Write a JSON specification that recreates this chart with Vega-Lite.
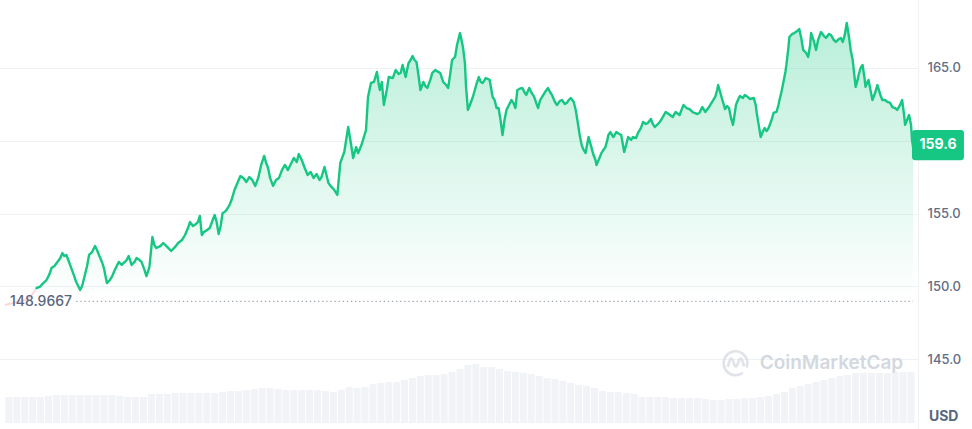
{
  "$schema": "https://vega.github.io/schema/vega-lite/v6.json",
  "width": 918,
  "height": 429,
  "autosize": "none",
  "padding": {"left": 0, "top": 0, "right": 54, "bottom": 0},
  "background": "white",
  "config": {"view": {"stroke": null}, "font": "Inter"},
  "datasets": {
    "price": [
      {"t":32,"p":149.89},{"t":35,"p":149.96},{"t":38,"p":150.17},{"t":42,"p":150.44},{"t":45,"p":150.85},{"t":47,"p":151.26},{"t":50,"p":151.40},{"t":53,"p":151.68},{"t":56,"p":151.95},{"t":58,"p":152.29},{"t":60,"p":152.09},{"t":62,"p":152.16},{"t":64,"p":151.81},{"t":67,"p":151.26},{"t":70,"p":150.71},{"t":72,"p":150.30},{"t":74,"p":150.03},{"t":76,"p":149.75},{"t":78,"p":150.03},{"t":80,"p":150.58},{"t":83,"p":151.40},{"t":85,"p":152.16},{"t":88,"p":152.36},{"t":91,"p":152.77},{"t":93,"p":152.50},{"t":95,"p":152.16},{"t":98,"p":151.68},{"t":100,"p":151.26},{"t":103,"p":150.23},{"t":106,"p":150.44},{"t":108,"p":150.65},{"t":111,"p":151.13},{"t":115,"p":151.68},{"t":118,"p":151.47},{"t":120,"p":151.61},{"t":123,"p":151.81},{"t":125,"p":152.09},{"t":128,"p":151.47},{"t":131,"p":151.68},{"t":133,"p":151.95},{"t":136,"p":151.81},{"t":138,"p":151.68},{"t":141,"p":151.13},{"t":143,"p":150.71},{"t":146,"p":151.33},{"t":149,"p":153.39},{"t":151,"p":152.84},{"t":153,"p":152.64},{"t":157,"p":152.77},{"t":160,"p":152.98},{"t":164,"p":152.71},{"t":168,"p":152.43},{"t":172,"p":152.71},{"t":175,"p":152.98},{"t":179,"p":153.19},{"t":182,"p":153.53},{"t":185,"p":154.01},{"t":187,"p":154.42},{"t":190,"p":154.15},{"t":192,"p":154.22},{"t":195,"p":154.42},{"t":197,"p":154.84},{"t":199,"p":153.53},{"t":201,"p":153.74},{"t":203,"p":153.81},{"t":207,"p":154.01},{"t":210,"p":154.56},{"t":212,"p":154.90},{"t":214,"p":154.42},{"t":216,"p":153.60},{"t":218,"p":154.15},{"t":220,"p":155.04},{"t":222,"p":155.11},{"t":224,"p":155.25},{"t":227,"p":155.59},{"t":229,"p":155.93},{"t":232,"p":156.62},{"t":235,"p":157.10},{"t":238,"p":157.58},{"t":241,"p":157.45},{"t":244,"p":157.17},{"t":247,"p":157.51},{"t":250,"p":157.31},{"t":253,"p":156.90},{"t":256,"p":157.45},{"t":259,"p":158.34},{"t":262,"p":158.96},{"t":264,"p":158.48},{"t":266,"p":158.13},{"t":268,"p":157.45},{"t":271,"p":156.90},{"t":274,"p":157.31},{"t":277,"p":157.45},{"t":280,"p":157.99},{"t":283,"p":158.34},{"t":286,"p":157.99},{"t":289,"p":158.41},{"t":292,"p":158.82},{"t":295,"p":158.54},{"t":297,"p":159.09},{"t":300,"p":158.68},{"t":303,"p":158.13},{"t":306,"p":157.65},{"t":309,"p":157.86},{"t":312,"p":157.45},{"t":315,"p":157.72},{"t":318,"p":157.31},{"t":320,"p":157.51},{"t":323,"p":158.20},{"t":327,"p":157.10},{"t":330,"p":156.83},{"t":333,"p":156.62},{"t":336,"p":156.28},{"t":339,"p":158.48},{"t":343,"p":159.23},{"t":347,"p":160.95},{"t":350,"p":159.71},{"t":352,"p":158.82},{"t":355,"p":159.57},{"t":357,"p":159.16},{"t":360,"p":159.64},{"t":362,"p":160.06},{"t":365,"p":160.74},{"t":367,"p":163.01},{"t":370,"p":163.97},{"t":373,"p":164.04},{"t":376,"p":164.73},{"t":378,"p":163.83},{"t":379,"p":163.49},{"t":381,"p":164.04},{"t":383,"p":162.46},{"t":386,"p":163.49},{"t":388,"p":164.38},{"t":392,"p":164.31},{"t":395,"p":164.86},{"t":398,"p":164.59},{"t":400,"p":164.66},{"t":402,"p":165.21},{"t":405,"p":164.38},{"t":408,"p":165.34},{"t":410,"p":165.55},{"t":412,"p":165.82},{"t":414,"p":165.55},{"t":416,"p":165.41},{"t":418,"p":164.52},{"t":420,"p":163.49},{"t":423,"p":164.04},{"t":425,"p":163.76},{"t":427,"p":163.63},{"t":430,"p":164.18},{"t":432,"p":164.66},{"t":435,"p":164.86},{"t":438,"p":164.73},{"t":440,"p":164.66},{"t":443,"p":164.04},{"t":446,"p":163.83},{"t":448,"p":163.63},{"t":450,"p":164.52},{"t":452,"p":165.55},{"t":455,"p":165.76},{"t":457,"p":166.58},{"t":460,"p":167.40},{"t":463,"p":166.44},{"t":465,"p":165.34},{"t":466,"p":163.83},{"t":468,"p":162.12},{"t":470,"p":162.46},{"t":473,"p":163.01},{"t":475,"p":163.49},{"t":477,"p":163.97},{"t":479,"p":164.38},{"t":481,"p":164.04},{"t":483,"p":163.97},{"t":486,"p":164.31},{"t":490,"p":164.18},{"t":493,"p":163.01},{"t":495,"p":162.80},{"t":497,"p":162.25},{"t":499,"p":162.25},{"t":501,"p":161.43},{"t":503,"p":160.40},{"t":505,"p":161.43},{"t":507,"p":162.12},{"t":510,"p":162.53},{"t":512,"p":162.80},{"t":514,"p":162.60},{"t":516,"p":162.25},{"t":518,"p":163.49},{"t":520,"p":163.56},{"t":523,"p":163.63},{"t":525,"p":163.35},{"t":527,"p":163.15},{"t":530,"p":163.63},{"t":532,"p":163.35},{"t":535,"p":163.01},{"t":537,"p":162.60},{"t":539,"p":162.25},{"t":541,"p":162.80},{"t":543,"p":163.01},{"t":546,"p":163.35},{"t":549,"p":163.63},{"t":551,"p":163.35},{"t":553,"p":163.15},{"t":556,"p":162.67},{"t":558,"p":162.46},{"t":561,"p":162.73},{"t":563,"p":162.80},{"t":566,"p":162.53},{"t":568,"p":162.60},{"t":570,"p":162.80},{"t":572,"p":162.94},{"t":575,"p":162.67},{"t":577,"p":162.12},{"t":579,"p":161.29},{"t":581,"p":160.40},{"t":583,"p":159.71},{"t":585,"p":159.37},{"t":587,"p":159.16},{"t":589,"p":159.92},{"t":590,"p":160.26},{"t":593,"p":159.51},{"t":595,"p":159.02},{"t":597,"p":158.68},{"t":598,"p":158.34},{"t":601,"p":158.82},{"t":603,"p":159.16},{"t":605,"p":159.37},{"t":607,"p":159.57},{"t":609,"p":160.06},{"t":610,"p":160.40},{"t":612,"p":160.60},{"t":615,"p":160.26},{"t":618,"p":160.60},{"t":621,"p":160.47},{"t":623,"p":160.40},{"t":626,"p":159.23},{"t":628,"p":159.71},{"t":630,"p":160.26},{"t":633,"p":160.06},{"t":635,"p":160.26},{"t":638,"p":160.19},{"t":640,"p":160.54},{"t":643,"p":160.88},{"t":645,"p":161.29},{"t":648,"p":161.15},{"t":650,"p":161.22},{"t":653,"p":161.50},{"t":655,"p":161.15},{"t":657,"p":160.95},{"t":660,"p":161.15},{"t":662,"p":161.29},{"t":665,"p":161.63},{"t":668,"p":161.98},{"t":671,"p":161.84},{"t":675,"p":161.63},{"t":678,"p":161.98},{"t":682,"p":161.77},{"t":684,"p":162.12},{"t":686,"p":162.46},{"t":689,"p":162.25},{"t":692,"p":162.18},{"t":695,"p":161.98},{"t":697,"p":161.91},{"t":700,"p":161.84},{"t":702,"p":161.91},{"t":705,"p":162.32},{"t":708,"p":161.98},{"t":711,"p":162.25},{"t":713,"p":162.46},{"t":716,"p":162.80},{"t":718,"p":163.01},{"t":720,"p":163.49},{"t":721,"p":163.83},{"t":723,"p":163.35},{"t":725,"p":162.87},{"t":728,"p":162.18},{"t":730,"p":162.39},{"t":732,"p":162.25},{"t":734,"p":161.57},{"t":736,"p":161.09},{"t":738,"p":161.98},{"t":739,"p":162.46},{"t":741,"p":162.80},{"t":743,"p":163.08},{"t":746,"p":162.94},{"t":748,"p":163.15},{"t":751,"p":163.01},{"t":753,"p":162.87},{"t":757,"p":162.94},{"t":759,"p":162.46},{"t":760,"p":161.91},{"t":762,"p":161.09},{"t":764,"p":160.26},{"t":766,"p":160.60},{"t":768,"p":160.88},{"t":770,"p":160.67},{"t":772,"p":160.88},{"t":775,"p":161.43},{"t":777,"p":161.91},{"t":780,"p":161.98},{"t":782,"p":162.46},{"t":783,"p":162.80},{"t":785,"p":163.35},{"t":787,"p":164.04},{"t":789,"p":164.73},{"t":790,"p":165.21},{"t":792,"p":166.37},{"t":793,"p":167.13},{"t":796,"p":167.34},{"t":798,"p":167.40},{"t":801,"p":167.54},{"t":803,"p":167.68},{"t":805,"p":167.06},{"t":807,"p":166.24},{"t":810,"p":166.03},{"t":812,"p":165.76},{"t":814,"p":166.58},{"t":815,"p":167.40},{"t":818,"p":166.79},{"t":820,"p":166.24},{"t":822,"p":166.92},{"t":825,"p":167.47},{"t":828,"p":167.20},{"t":830,"p":167.06},{"t":833,"p":167.34},{"t":835,"p":167.27},{"t":838,"p":166.92},{"t":840,"p":166.79},{"t":843,"p":166.99},{"t":845,"p":167.06},{"t":847,"p":166.79},{"t":849,"p":167.27},{"t":851,"p":168.09},{"t":853,"p":167.27},{"t":855,"p":166.24},{"t":857,"p":165.55},{"t":860,"p":163.70},{"t":862,"p":164.18},{"t":863,"p":164.52},{"t":865,"p":165.00},{"t":867,"p":165.21},{"t":869,"p":164.31},{"t":870,"p":163.70},{"t":872,"p":164.04},{"t":873,"p":164.18},{"t":875,"p":163.49},{"t":877,"p":162.80},{"t":880,"p":163.35},{"t":882,"p":163.83},{"t":885,"p":163.15},{"t":887,"p":162.80},{"t":890,"p":162.80},{"t":892,"p":162.67},{"t":895,"p":162.60},{"t":897,"p":162.32},{"t":900,"p":162.25},{"t":902,"p":162.12},{"t":905,"p":162.46},{"t":907,"p":162.80},{"t":909,"p":161.77},{"t":910,"p":161.09},{"t":912,"p":161.43},{"t":914,"p":161.77},{"t":916,"p":161.09},{"t":917,"p":160.06},{"t":918,"p":159.6}
    ],
    "faint": [
      {"t":0,"p":148.72},{"t":4,"p":148.79},{"t":8,"p":148.86},{"t":12,"p":148.93},{"t":16,"p":149.00},{"t":20,"p":149.07},{"t":24,"p":149.20},{"t":28,"p":149.48},{"t":32,"p":149.89}
    ],
    "vol": [
      {"t":4,"v":26},{"t":12,"v":26},{"t":20,"v":26},{"t":28,"v":26},{"t":36,"v":26},{"t":44,"v":27},{"t":52,"v":28},{"t":60,"v":28},{"t":68,"v":28},{"t":76,"v":28},{"t":84,"v":28},{"t":92,"v":28},{"t":100,"v":28},{"t":108,"v":28},{"t":116,"v":27},{"t":124,"v":26},{"t":132,"v":26},{"t":140,"v":26},{"t":148,"v":29},{"t":156,"v":29},{"t":164,"v":29},{"t":172,"v":30},{"t":180,"v":30},{"t":188,"v":30},{"t":196,"v":30},{"t":204,"v":30},{"t":212,"v":30},{"t":220,"v":31},{"t":228,"v":32},{"t":236,"v":32},{"t":244,"v":33},{"t":252,"v":34},{"t":260,"v":35},{"t":268,"v":35},{"t":276,"v":34},{"t":284,"v":33},{"t":292,"v":33},{"t":300,"v":33},{"t":308,"v":33},{"t":316,"v":33},{"t":324,"v":32},{"t":332,"v":31},{"t":340,"v":33},{"t":348,"v":36},{"t":356,"v":35},{"t":364,"v":36},{"t":372,"v":39},{"t":380,"v":40},{"t":388,"v":41},{"t":396,"v":41},{"t":404,"v":43},{"t":412,"v":45},{"t":420,"v":47},{"t":428,"v":48},{"t":436,"v":48},{"t":444,"v":49},{"t":452,"v":51},{"t":460,"v":54},{"t":468,"v":58},{"t":476,"v":59},{"t":484,"v":56},{"t":492,"v":56},{"t":500,"v":54},{"t":508,"v":52},{"t":516,"v":51},{"t":524,"v":50},{"t":532,"v":49},{"t":540,"v":47},{"t":548,"v":45},{"t":556,"v":44},{"t":564,"v":42},{"t":572,"v":40},{"t":580,"v":38},{"t":588,"v":37},{"t":596,"v":35},{"t":604,"v":32},{"t":612,"v":31},{"t":620,"v":31},{"t":628,"v":30},{"t":636,"v":29},{"t":644,"v":26},{"t":652,"v":26},{"t":660,"v":26},{"t":668,"v":26},{"t":676,"v":25},{"t":684,"v":25},{"t":692,"v":25},{"t":700,"v":25},{"t":708,"v":24},{"t":716,"v":23},{"t":724,"v":23},{"t":732,"v":24},{"t":740,"v":24},{"t":748,"v":25},{"t":756,"v":25},{"t":764,"v":26},{"t":772,"v":27},{"t":780,"v":29},{"t":788,"v":31},{"t":796,"v":35},{"t":804,"v":37},{"t":812,"v":39},{"t":820,"v":41},{"t":828,"v":43},{"t":836,"v":45},{"t":844,"v":47},{"t":852,"v":48},{"t":860,"v":50},{"t":868,"v":50},{"t":876,"v":50},{"t":884,"v":50},{"t":892,"v":50},{"t":900,"v":51},{"t":908,"v":51},{"t":916,"v":51}
    ],
    "base": [{"t0":72,"t1":918,"p":148.9667,"label":"148.9667","tl":0}],
    "last": [{"t":918,"p":159.6,"label":"159.6"}],
    "notes": [
      {"t":763,"p":144.74,"text":"CoinMarketCap","kind":"wm"},
      {"t":949,"p":141.03,"text":"USD","kind":"unit"}
    ]
  },
  "layer": [
    {
      "data": {"name": "vol"},
      "mark": {"type": "bar", "size": 7, "color": "#f1f3f6"},
      "encoding": {
        "x": {"field": "t", "type": "quantitative", "scale": {"domain": [0, 918], "nice": false, "zero": false}, "axis": null},
        "y": {"field": "v", "type": "quantitative", "scale": {"domain": [-6, 423], "nice": false}, "axis": null}
      }
    },
    {
      "layer": [
        {
          "data": {"name": "price"},
          "mark": {"type": "area", "line": false, "color": {"gradient": "linear", "x1": 0, "y1": 0, "x2": 0, "y2": 1, "stops": [{"offset": 0, "color": "rgba(22,199,132,0.30)"}, {"offset": 1, "color": "rgba(22,199,132,0.0)"}]}},
          "encoding": {
            "x": {"field": "t", "type": "quantitative", "scale": {"domain": [0, 918], "nice": false, "zero": false}, "axis": null},
            "y": {"field": "p", "type": "quantitative", "scale": {"domain": [140.206, 169.67], "nice": false, "zero": false},
              "axis": {"orient": "right", "values": [145, 150, 155, 160, 165], "format": ".1f", "labelExpr": "datum.value == 160 ? '' : datum.label", "title": null, "ticks": false, "grid": true, "gridColor": "#eff2f5", "gridWidth": 1, "domain": true, "domainColor": "#eff2f5", "labelPadding": 9, "labelFont": "Inter", "labelFontSize": 13, "labelFontWeight": 500, "labelColor": "#616e85"}},
            "y2": {"datum": 148.9667}
          }
        },
        {
          "data": {"name": "faint"},
          "mark": {"type": "line", "color": "#ea3943", "strokeWidth": 2, "opacity": 0.2},
          "encoding": {"x": {"field": "t", "type": "quantitative"}, "y": {"field": "p", "type": "quantitative"}}
        },
        {
          "data": {"name": "price"},
          "mark": {"type": "line", "color": "#16c784", "strokeWidth": 2.4, "strokeJoin": "round", "strokeCap": "round"},
          "encoding": {"x": {"field": "t", "type": "quantitative"}, "y": {"field": "p", "type": "quantitative"}}
        },
        {
          "data": {"name": "base"},
          "mark": {"type": "rule", "color": "#a1a7bb", "strokeWidth": 1.3, "strokeDash": [1.3, 2.8]},
          "encoding": {"x": {"field": "t0", "type": "quantitative"}, "x2": {"field": "t1"}, "y": {"field": "p", "type": "quantitative"}}
        },
        {
          "data": {"name": "base"},
          "mark": {"type": "text", "align": "left", "baseline": "middle", "dx": 5, "dy": 1, "fontSize": 14, "fontWeight": 500, "color": "#58667e", "font": "Inter"},
          "encoding": {"x": {"field": "tl", "type": "quantitative"}, "y": {"field": "p", "type": "quantitative"}, "text": {"field": "label"}}
        },
        {
          "data": {"name": "notes"},
          "transform": [{"filter": "datum.kind == 'wm'"}],
          "mark": {"type": "text", "align": "left", "baseline": "middle", "fontSize": 19, "fontWeight": 600, "color": "#d3d8e0", "font": "Inter"},
          "encoding": {"x": {"field": "t", "type": "quantitative"}, "y": {"field": "p", "type": "quantitative"}, "text": {"field": "text"}}
        },
        {
          "data": {"name": "notes"},
          "transform": [{"filter": "datum.kind == 'wm'"}],
          "mark": {"type": "point", "shape": "M0.55,0.75 A0.92,0.92 0 1 1 0.85,0.35 M-0.6,0.3 L-0.45,-0.25 Q-0.35,-0.45 -0.22,-0.2 L-0.08,0.2 Q0.02,0.35 0.12,0.15 L0.28,-0.25 Q0.38,-0.45 0.5,-0.2 L0.65,0.25", "filled": false, "size": 676, "strokeWidth": 2.6, "color": "#d3d8e0", "xOffset": -24},
          "encoding": {"x": {"field": "t", "type": "quantitative"}, "y": {"field": "p", "type": "quantitative"}}
        },
        {
          "data": {"name": "notes"},
          "transform": [{"filter": "datum.kind == 'unit'"}],
          "mark": {"type": "text", "align": "center", "baseline": "middle", "fontSize": 14, "fontWeight": "bold", "color": "#58667e", "font": "Inter"},
          "encoding": {"x": {"field": "t", "type": "quantitative"}, "y": {"field": "p", "type": "quantitative"}, "text": {"field": "text"}}
        },
        {
          "data": {"name": "last"},
          "mark": {"type": "point", "shape": "M0.08,-0.64 H1.84 Q1.96,-0.64 1.96,-0.52 V0.4 Q1.96,0.52 1.84,0.52 H0.08 Q-0.04,0.52 -0.04,0.4 V-0.52 Q-0.04,-0.64 0.08,-0.64 Z", "filled": true, "size": 2704, "color": "#16c784", "opacity": 1},
          "encoding": {"x": {"field": "t", "type": "quantitative"}, "y": {"field": "p", "type": "quantitative"}}
        },
        {
          "data": {"name": "last"},
          "mark": {"type": "text", "align": "center", "baseline": "middle", "dx": 25, "dy": -1.5, "fontSize": 14, "fontWeight": "bold", "color": "white", "font": "Inter"},
          "encoding": {"x": {"field": "t", "type": "quantitative"}, "y": {"field": "p", "type": "quantitative"}, "text": {"field": "label"}}
        }
      ]
    }
  ],
  "resolve": {"scale": {"y": "independent"}}
}
